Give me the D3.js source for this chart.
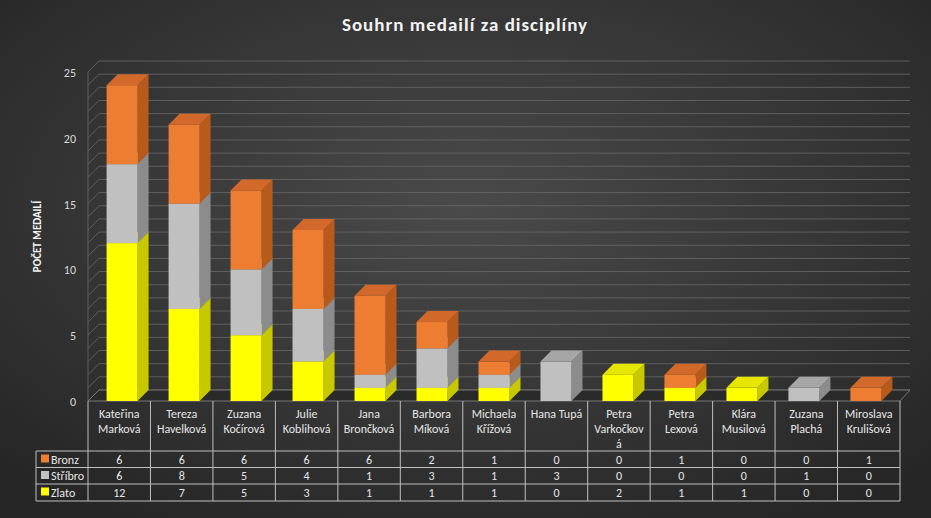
<!DOCTYPE html>
<html lang="cs">
<head>
<meta charset="utf-8">
<script src="https://d3js.org/d3.v7.min.js"></script>
<style>
  body { margin: 0; background: #333; }
  svg { display: block; font-family: Calibri, "Liberation Sans", "Open Sans", sans-serif; }
</style>
</head>
<body>
<div id="chart"></div>
<script>
const names = ["Kateřina\nMarková", "Tereza\nHavelková", "Zuzana\nKočírová", "Julie\nKoblihová", "Jana\nBrončková", "Barbora\nMíková", "Michaela\nKřížová", "Hana Tupá", "Petra\nVarkočkov\ná", "Petra\nLexová", "Klára\nMusilová", "Zuzana\nPlachá", "Miroslava\nKrulišová"];
const zlato   = [12, 7, 5, 3, 1, 1, 1, 0, 2, 1, 1, 0, 0];
const stribro = [6, 8, 5, 4, 1, 3, 1, 3, 0, 0, 0, 1, 0];
const bronz   = [6, 6, 6, 6, 6, 2, 1, 0, 0, 1, 0, 0, 1];
const yTicks = [0, 5, 10, 15, 20, 25];

const W = 931, H = 518;
const series = [
  {name: "Zlato", values: zlato, front: "#ffff00", side: "#c8c800", top: "#e6e600"},
  {name: "Stříbro", values: stribro, front: "#c0c0c0", side: "#8c8c8c", top: "#a6a6a6"},
  {name: "Bronz", values: bronz, front: "#ed7d31", side: "#b85a1c", top: "#d2692a"}
];
const dx = 11, dy = 11;

const svg = d3.select("#chart").append("svg").attr("width", W).attr("height", H);
const grad = svg.append("defs").append("radialGradient").attr("id", "bg")
  .attr("cx", "50%").attr("cy", "40%").attr("r", "70%");
grad.append("stop").attr("offset", "0%").attr("stop-color", "#4a4a4a");
grad.append("stop").attr("offset", "100%").attr("stop-color", "#262626");
svg.append("rect").attr("width", W).attr("height", H).attr("fill", "url(#bg)");

svg.append("text").attr("x", 465).attr("y", 31).attr("text-anchor", "middle")
  .attr("fill", "#f2f2f2").attr("font-size", 19).attr("font-weight", "bold")
  .attr("letter-spacing", 1).text("Souhrn medailí za disciplíny");

const x = d3.scaleBand().domain(d3.range(names.length)).range([88, 900]).paddingInner(0.5).paddingOuter(0.3);
const y = d3.scaleLinear().domain([0, 25]).range([401, 72]);

// walls and gridlines
const grid = svg.append("g").attr("stroke", "#6a6a6a").attr("stroke-width", 0.8);
d3.range(0, 26).forEach(v => {
  grid.append("line").attr("x1", 88).attr("y1", y(v)).attr("x2", 88 + dx).attr("y2", y(v) - dy);
  grid.append("line").attr("x1", 88 + dx).attr("y1", y(v) - dy).attr("x2", 910).attr("y2", y(v) - dy);
});
grid.append("line").attr("x1", 88).attr("y1", y(0)).attr("x2", 88).attr("y2", y(25));
svg.append("path").attr("d", `M88,${y(0)}L${88+dx},${y(0)-dy}L910,${y(0)-dy}L900,${y(0)}Z`).attr("fill", "#2a2a2a").attr("stroke", "#777");

svg.append("g").selectAll("text").data(yTicks).join("text")
  .attr("x", 76).attr("y", d => y(d) + 5).attr("text-anchor", "end")
  .attr("fill", "#d9d9d9").attr("font-size", 12).text(d => d);
svg.append("text").attr("transform", `translate(41,${y(12.5)}) rotate(-90)`)
  .attr("text-anchor", "middle").attr("fill", "#f2f2f2").attr("font-size", 11)
  .attr("font-weight", "bold").text("POČET MEDAILÍ");

// bars
const stack = d3.stack().keys([0, 1, 2]).value((i, k) => series[k].values[i])(d3.range(names.length));
const bars = svg.append("g");
names.forEach((n, i) => {
  series.forEach((s, k) => {
    const [a, b] = stack[k][i];
    if (b - a <= 0) return;
    const x0 = x(i), w = x.bandwidth(), y0 = y(a), y1 = y(b);
    bars.append("path").attr("d", `M${x0+w},${y1}L${x0+w+dx},${y1-dy}L${x0+w+dx},${y0-dy}L${x0+w},${y0}Z`).attr("fill", s.side);
    bars.append("rect").attr("x", x0).attr("y", y1).attr("width", w).attr("height", y0 - y1).attr("fill", s.front);
    bars.append("path").attr("d", `M${x0},${y1}L${x0+dx},${y1-dy}L${x0+w+dx},${y1-dy}L${x0+w},${y1}Z`).attr("fill", s.top);
  });
});

// data table
const colW = (900 - 88) / names.length;
const tbl = svg.append("g").attr("stroke", "#bfbfbf").attr("stroke-width", 1);
const rowY = [451, 467.5, 484, 501];
d3.range(names.length + 1).forEach(i => tbl.append("line").attr("x1", 88 + i * colW).attr("x2", 88 + i * colW).attr("y1", 401).attr("y2", 501));
tbl.append("line").attr("x1", 36).attr("x2", 36).attr("y1", 451).attr("y2", 501);
rowY.forEach(r => tbl.append("line").attr("x1", 36).attr("x2", 900).attr("y1", r).attr("y2", r));

const nameG = svg.append("g").attr("fill", "#e6e6e6").attr("font-size", 12).attr("text-anchor", "middle");
names.forEach((n, i) => {
  const t = nameG.append("text").attr("x", 88 + (i + 0.5) * colW).attr("y", 418);
  n.split("\n").forEach((l, j) => t.append("tspan").attr("x", 88 + (i + 0.5) * colW).attr("dy", j ? 15 : 0).text(l));
});
const rows = [series[2], series[1], series[0]];
rows.forEach((s, r) => {
  const cy = rowY[r] + 12.5;
  svg.append("rect").attr("x", 41).attr("y", cy - 9).attr("width", 8).attr("height", 8).attr("fill", s.front);
  svg.append("text").attr("x", 51).attr("y", cy).attr("fill", "#e6e6e6").attr("font-size", 12).text(s.name);
  s.values.forEach((v, i) => svg.append("text").attr("x", 88 + (i + 0.5) * colW).attr("y", cy)
    .attr("text-anchor", "middle").attr("fill", "#e6e6e6").attr("font-size", 12).text(v));
});
</script>
</body>
</html>
